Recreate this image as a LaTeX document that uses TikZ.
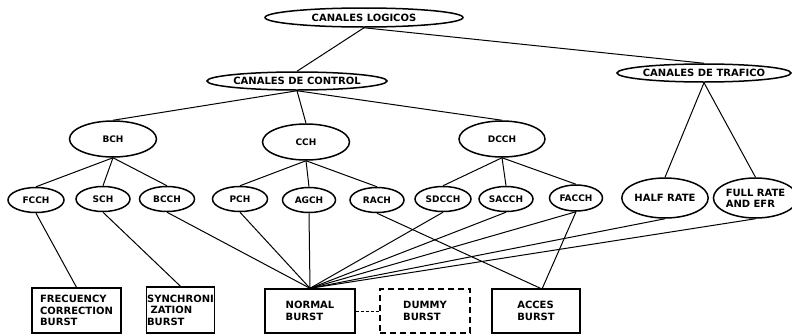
\documentclass[tikz,border=0pt]{standalone}
\usepackage{fontspec}
\setmainfont{DejaVu Sans}
\usetikzlibrary{shapes.geometric}
\begin{document}
\begin{tikzpicture}[x=1pt,y=-1pt,
  ell/.style={draw, ellipse, line width=1.5pt, inner sep=0pt, align=left,
    font=\bfseries\fontsize{9}{10}\selectfont},
  big/.style={font=\bfseries\fontsize{10}{11}\selectfont},
  boxn/.style={draw, rectangle, line width=1.4pt, inner sep=0.5pt, align=left,
    font=\bfseries\fontsize{10}{11.5}\selectfont},
  ln/.style={line width=1pt}]
\useasboundingbox (0,0) rectangle (792,335);
% top levels
\node[ell, big, minimum width=198pt, minimum height=19pt] (log) at (364,17.5) {CANALES LOGICOS};
\node[ell, big, minimum width=160pt, minimum height=18pt] (ctl) at (297,81) {CANALES DE CONTROL};
\node[ell, big, minimum width=174pt, minimum height=18pt] (tra) at (704,73) {CANALES DE TRAFICO};
% second level
\node[ell, minimum width=87pt, minimum height=36pt] (bch) at (113,139) {BCH};
\node[ell, minimum width=87pt, minimum height=36pt] (cch) at (306,142) {CCH};
\node[ell, minimum width=86pt, minimum height=36pt] (dcch) at (502,139) {DCCH};
% third level
\node[ell, minimum width=56pt, minimum height=25pt] (fcch) at (36,200) {FCCH};
\node[ell, minimum width=54pt, minimum height=25pt] (sch) at (103,199) {SCH};
\node[ell, minimum width=55pt, minimum height=25pt] (bcch) at (167,199) {BCCH};
\node[ell, minimum width=55pt, minimum height=25pt] (pch) at (240,199) {PCH};
\node[ell, minimum width=53pt, minimum height=25pt] (agch) at (309,200) {AGCH};
\node[ell, minimum width=54pt, minimum height=25pt] (rach) at (377,200) {RACH};
\node[ell, minimum width=56pt, minimum height=25pt] (sdcch) at (443,199) {SDCCH};
\node[ell, minimum width=54pt, minimum height=25pt] (sacch) at (506,199) {SACCH};
\node[ell, minimum width=53pt, minimum height=26pt] (facch) at (576,198) {FACCH};
\node[ell, big, minimum width=86pt, minimum height=40pt] (half) at (665,198) {HALF RATE};
\node[ell, big, minimum width=71pt, minimum height=40pt] (full) at (755.5,198) {FULL RATE\\AND EFR};
% bursts
\node[boxn, minimum width=89pt, minimum height=45pt] (frec) at (76.5,310.5) {FRECUENCY\\CORRECTION\\BURST};
\node[boxn, minimum width=67pt, minimum height=46pt] (sync) at (180.5,310) {SYNCHRONI\\\ ZATION\\BURST};
\node[boxn, minimum width=90pt, minimum height=44pt] (normal) at (310,311) {NORMAL\\BURST};
\node[boxn, dash pattern=on 6pt off 4pt, minimum width=90pt, minimum height=44pt] (dummy) at (425,311) {DUMMY\\BURST};
\node[boxn, minimum width=88pt, minimum height=44pt] (acces) at (536,311) {ACCES\\BURST};
\coordinate (ain) at (542,289);
% connectors
\draw[ln] (log.south) -- (ctl.north);
\draw[ln] (log.south) -- (tra.north);
\draw[ln] (ctl.south) -- (bch.north);
\draw[ln] (ctl.south) -- (cch.north);
\draw[ln] (ctl.south) -- (dcch.north);
\draw[ln] (tra.south) -- (half.north);
\draw[ln] (tra.south) -- (full.north);
\draw[ln] (bch.south) -- (fcch.north);
\draw[ln] (bch.south) -- (sch.north);
\draw[ln] (bch.south) -- (bcch.north);
\draw[ln] (cch.south) -- (pch.north);
\draw[ln] (cch.south) -- (agch.north);
\draw[ln] (cch.south) -- (rach.north);
\draw[ln] (dcch.south) -- (sdcch.north);
\draw[ln] (dcch.south) -- (sacch.north);
\draw[ln] (dcch.south) -- (facch.north);
\draw[ln] (fcch.south) -- (frec.north);
\draw[ln] (sch.south) -- (sync.north);
\draw[ln] (bcch.south) -- (normal.north);
\draw[ln] (pch.south) -- (normal.north);
\draw[ln] (agch.south) -- (normal.north);
\draw[ln] (sdcch.south) -- (normal.north);
\draw[ln] (sacch.south) -- (normal.north);
\draw[ln] (facch.south) -- (normal.north);
\draw[ln] (half.south) -- (normal.north);
\draw[ln] (full.south) -- (normal.north);
\draw[ln] (rach.south) -- (ain);
\draw[ln] (facch.south) -- (ain);
\draw[ln, dash pattern=on 3pt off 2pt] (normal.east) -- (dummy.west);
\end{tikzpicture}
\end{document}
